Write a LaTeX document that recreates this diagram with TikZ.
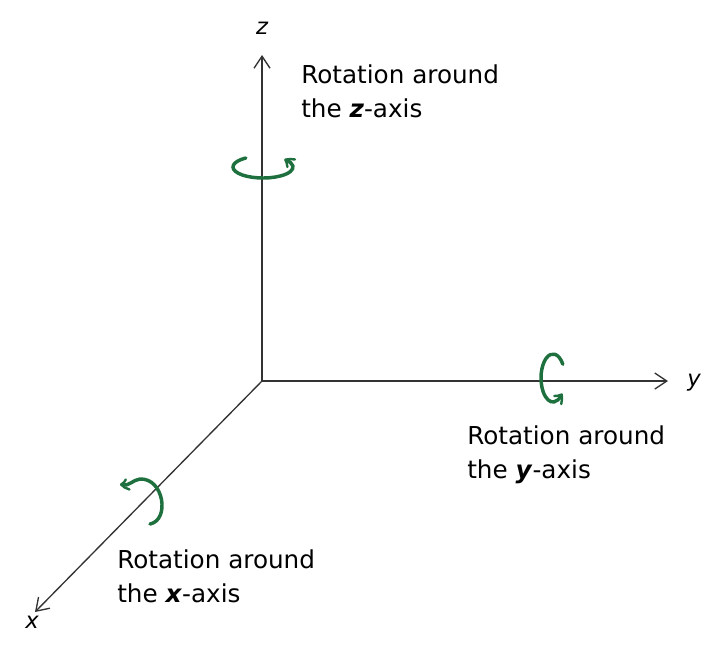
\documentclass[tikz,border=0pt]{standalone}
\usepackage{fontspec}
\setmainfont{DejaVu Sans}
\usetikzlibrary{arrows.meta,bending}
\definecolor{rg}{RGB}{30,112,62}
\begin{document}
\begin{tikzpicture}[x=0.75pt,y=-0.75pt,
  ax/.style={line width=1pt,draw=black!80,-{Straight Barb[length=9pt,width=12pt]}},
  rot/.style={line width=2.6pt,line cap=round,draw=rg,-{Straight Barb[length=5pt,width=8pt,line width=1.8pt,round,bend]}},
  lab/.style={font=\fontsize{18.5}{25.5}\selectfont,align=left,anchor=north west,inner sep=0pt},
  axl/.style={font=\fontsize{17}{20}\selectfont\rmfamily\itshape}]
\useasboundingbox (0,0) rectangle (720,644);
\coordinate (o) at (262,381);
\coordinate (zt) at (262,55);
\coordinate (yt) at (668,381);
\coordinate (xt) at (35,612);
\draw[ax] (o) -- (zt);
\draw[ax] (o) -- (yt);
\draw[ax] (o) -- (xt);
\node[axl] (zl) at (262,28) {z};
\node[axl] (yl) at (694,383) {y};
\node[axl] (xl) at (32,622) {x};
\node[lab] (tz) at (301,64) {Rotation around\\the \textbf{\itshape z}-axis};
\node[lab] (ty) at (467,425) {Rotation around\\the \textbf{\itshape y}-axis};
\node[lab] (tx) at (117,549) {Rotation around\\the \textbf{\itshape x}-axis};
\draw[rot] (263,167) ++(235:30 and 11) arc[start angle=235,end angle=-45,x radius=30,y radius=11];
\draw[rot] (553,378) ++(-35:12 and 24) arc[start angle=-35,end angle=-320,x radius=12,y radius=24];
\draw[rot] (150,524) .. controls (170,520) and (164,478) .. (140,479) .. controls (132,480) and (128,488) .. (120,484);
\end{tikzpicture}
\end{document}
